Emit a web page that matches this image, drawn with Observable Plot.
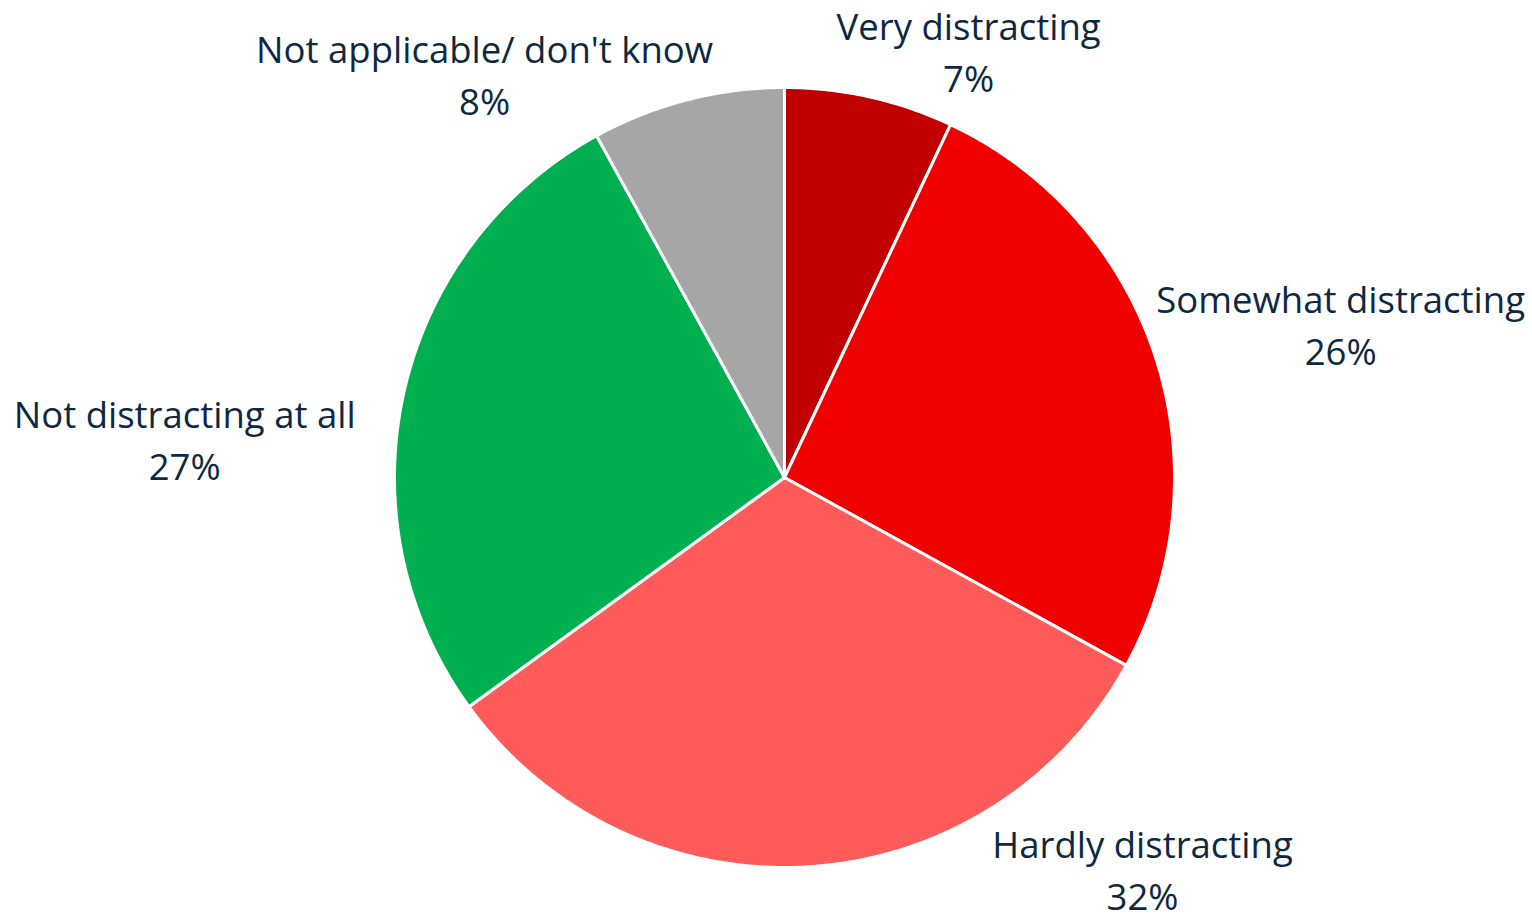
<!DOCTYPE html>
<html>
<head>
<meta charset="utf-8">
<script src="https://cdn.jsdelivr.net/npm/d3@7"></script>
<script src="https://cdn.jsdelivr.net/npm/@observablehq/plot@0.6"></script>
<style>
  html, body { margin: 0; padding: 0; background: #ffffff; }
  #chart svg { display: block; }
  #chart text { font-variant-ligatures: none; }
</style>
</head>
<body>
<div id="chart"></div>
<script>
// ---- Data ----
const categories = ["Very distracting", "Somewhat distracting", "Hardly distracting", "Not distracting at all", "Not applicable/ don't know"];
const values = [7, 26, 32, 27, 8];
const colors = ["#C00000", "#F00000", "#FF5B5B", "#00B050", "#A6A6A6"];

// ---- Layout ----
const W = 1532, H = 922;
const cx = 784, cy = 477, R = 390;

const arcs = d3.pie().sort(null).value(d => d.value)(
  categories.map((c, i) => ({category: c, value: values[i], color: colors[i]}))
);

// polygon points of each slice, in radius units (x right, y up)
function slicePoints(a) {
  const pts = [{x: 0, y: 0}];
  const n = Math.max(2, Math.ceil((a.endAngle - a.startAngle) / (Math.PI / 360)));
  for (let k = 0; k <= n; k++) {
    const t = a.startAngle + (a.endAngle - a.startAngle) * k / n;
    pts.push({x: Math.sin(t), y: Math.cos(t)});
  }
  return pts;
}

// label placement (text centre, first baseline), in radius units
const labelSpot = {
  "Very distracting": [0.472, 1.121],
  "Somewhat distracting": [1.426, 0.421],
  "Hardly distracting": [0.918, -0.975],
  "Not distracting at all": [-1.538, 0.128],
  "Not applicable/ don't know": [-0.769, 1.062]
};
const labels = arcs.map(a => ({
  name: a.data.category,
  pct: a.data.value + "%",
  x: labelSpot[a.data.category][0],
  y: labelSpot[a.data.category][1]
}));

const font = "'Open Sans', Lato, sans-serif";
const fs = 36.5;
const gap = 52 / R; // baseline-to-baseline distance

const chart = Plot.plot({
  width: W,
  height: H,
  margin: 0,
  style: {background: "#ffffff", fontFamily: font},
  x: {domain: [-cx / R, (W - cx) / R], axis: null},
  y: {domain: [-(H - cy) / R, cy / R], axis: null},
  marks: [
    ...arcs.map(a => Plot.line(slicePoints(a), {
      x: "x", y: "y",
      curve: "linear-closed",
      fill: a.data.color,
      stroke: "#ffffff",
      strokeWidth: 3,
      strokeLinejoin: "round"
    })),
    Plot.text(labels, {
      x: "x", y: "y", text: "name",
      lineAnchor: "bottom", textAnchor: "middle",
      fontSize: fs, fill: "#0E2841", fontFamily: font
    }),
    Plot.text(labels, {
      x: "x", y: d => d.y - gap, text: "pct",
      lineAnchor: "bottom", textAnchor: "middle",
      fontSize: fs, fill: "#0E2841", fontFamily: font
    })
  ]
});
document.getElementById("chart").appendChild(chart);
</script>
</body>
</html>
